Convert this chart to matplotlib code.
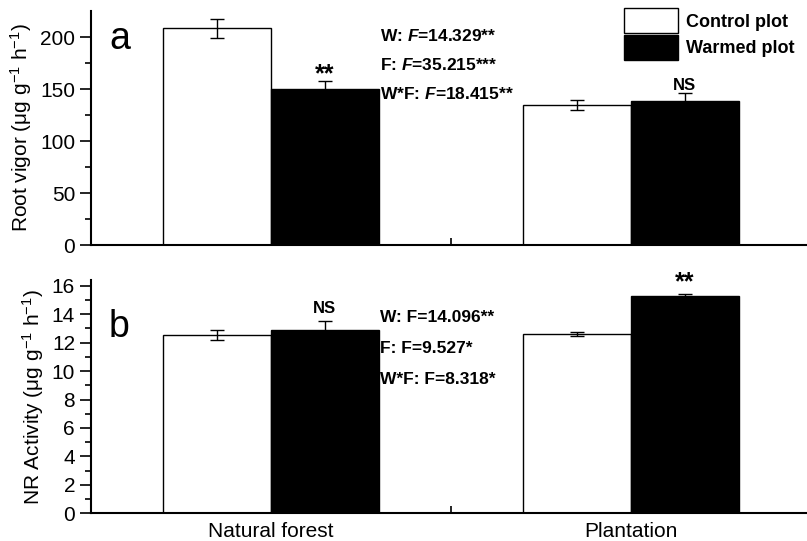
import numpy as np
import matplotlib
matplotlib.use("Agg")
import matplotlib.pyplot as plt
from matplotlib.patches import Patch

plt.rcParams['font.family'] = ['Liberation Sans', 'DejaVu Sans']
plt.rcParams['mathtext.fontset'] = 'custom'
plt.rcParams['mathtext.rm'] = 'Liberation Sans'
plt.rcParams['mathtext.it'] = 'Liberation Sans:italic'
plt.rcParams['mathtext.bf'] = 'Liberation Sans:bold'
plt.rcParams['mathtext.bfit'] = 'Liberation Sans:bold:italic'

sites = ["Natural forest", "Plantation"]

# panel a: root vigor
vigor_control = [208.5, 134.5]
vigor_control_err = [9.0, 5.0]
vigor_warmed = [150.3, 138.8]
vigor_warmed_err = [7.0, 7.0]
vigor_marks = ["**", "NS"]

# panel b: NR activity
nr_control = [12.54, 12.61]
nr_control_err = [0.35, 0.14]
nr_warmed = [12.89, 15.30]
nr_warmed_err = [0.65, 0.15]
nr_marks = ["NS", "**"]

stats_a = [r"W: $\boldsymbol{F}$=14.329**", r"F: $\boldsymbol{F}$=35.215***", r"W*F: $\boldsymbol{F}$=18.415**"]
stats_b = ["W: F=14.096**", "F: F=9.527*", "W*F: F=8.318*"]


def panel(ax, ctrl, ctrl_err, warm, warm_err, marks, ymax, major, minor, letter, ylabel, stats, stat_y, stat_step, mark_pad):
   x = np.arange(len(sites))
   w = 0.3
   err_kw = dict(ecolor="black", capsize=5, elinewidth=1, capthick=1)
   ax.bar(x - w / 2, ctrl, w, yerr=ctrl_err, color="white", edgecolor="black", linewidth=1, error_kw=err_kw, zorder=2)
   ax.bar(x + w / 2, warm, w, yerr=warm_err, color="black", edgecolor="black", linewidth=1, error_kw=err_kw, zorder=2)
   for i, m in enumerate(marks):
      fs = 18 if m == "**" else 12
      pad = mark_pad - (ymax * 0.02 if m == "**" else 0)
      ax.text(x[i] + w / 2, warm[i] + warm_err[i] + pad, m, ha="center", va="bottom",
              fontsize=fs, fontweight="bold")
   ax.set_xlim(-0.5, 1.49)
   ax.set_ylim(0, ymax)
   ax.set_yticks(np.arange(0, ymax, major))
   ax.set_yticks(np.arange(0, ymax, minor), minor=True)
   ax.set_xticks([0.5])
   ax.set_xticklabels([""])
   ax.set_xticks(x, minor=True)
   ax.tick_params(axis="x", which="major", direction="in", length=5, width=1.2)
   ax.tick_params(axis="x", which="minor", length=0, labelsize=15, pad=6)
   ax.tick_params(axis="y", which="major", direction="out", length=8, width=1.2, labelsize=15)
   ax.tick_params(axis="y", which="minor", direction="out", length=4, width=1.2)
   for s in ["top", "right"]:
      ax.spines[s].set_visible(False)
   for s in ["left", "bottom"]:
      ax.spines[s].set_linewidth(1.5)
   ax.set_ylabel(ylabel, fontsize=15, labelpad=4)
   ax.text(0.025, stat_y[0], letter, transform=ax.transAxes, fontsize=27, va="center", ha="left")
   for k, s in enumerate(stats):
      ax.text(0.404, stat_y[1] - k * stat_step, s, transform=ax.transAxes, fontsize=12.5,
              fontweight="bold", va="center", ha="left")


fig = plt.figure(figsize=(8.07, 5.41), dpi=100)
ax1 = fig.add_axes([0.1128, 0.547, 0.8872, 0.4325])
ax2 = fig.add_axes([0.1128, 0.0512, 0.8872, 0.4312])

panel(ax1, vigor_control, vigor_control_err, vigor_warmed, vigor_warmed_err, vigor_marks,
      225, 50, 25, "a", r"Root vigor (μg g$^{-1}$ h$^{-1}$)", stats_a, (0.88, 0.895), 0.125, 0)
ax1.set_xticklabels([], minor=True)
panel(ax2, nr_control, nr_control_err, nr_warmed, nr_warmed_err, nr_marks,
      16.4, 2, 1, "b", r"NR Activity (μg g$^{-1}$ h$^{-1}$)", stats_b, (0.8, 0.84), 0.133, 0.3)
ax2.set_xticklabels(sites, minor=True)

handles = [Patch(facecolor="white", edgecolor="black", linewidth=1), Patch(facecolor="black", edgecolor="black")]
fig.legend(handles, ["Control plot", "Warmed plot"], loc="upper left", bbox_to_anchor=(0.757, 1.008),
           frameon=False, prop={"weight": "bold", "size": 13}, handlelength=3.0, handleheight=1.75,
           handletextpad=0.45, labelspacing=0.1, borderaxespad=0.3)

fig.savefig("out.png", dpi=100)
